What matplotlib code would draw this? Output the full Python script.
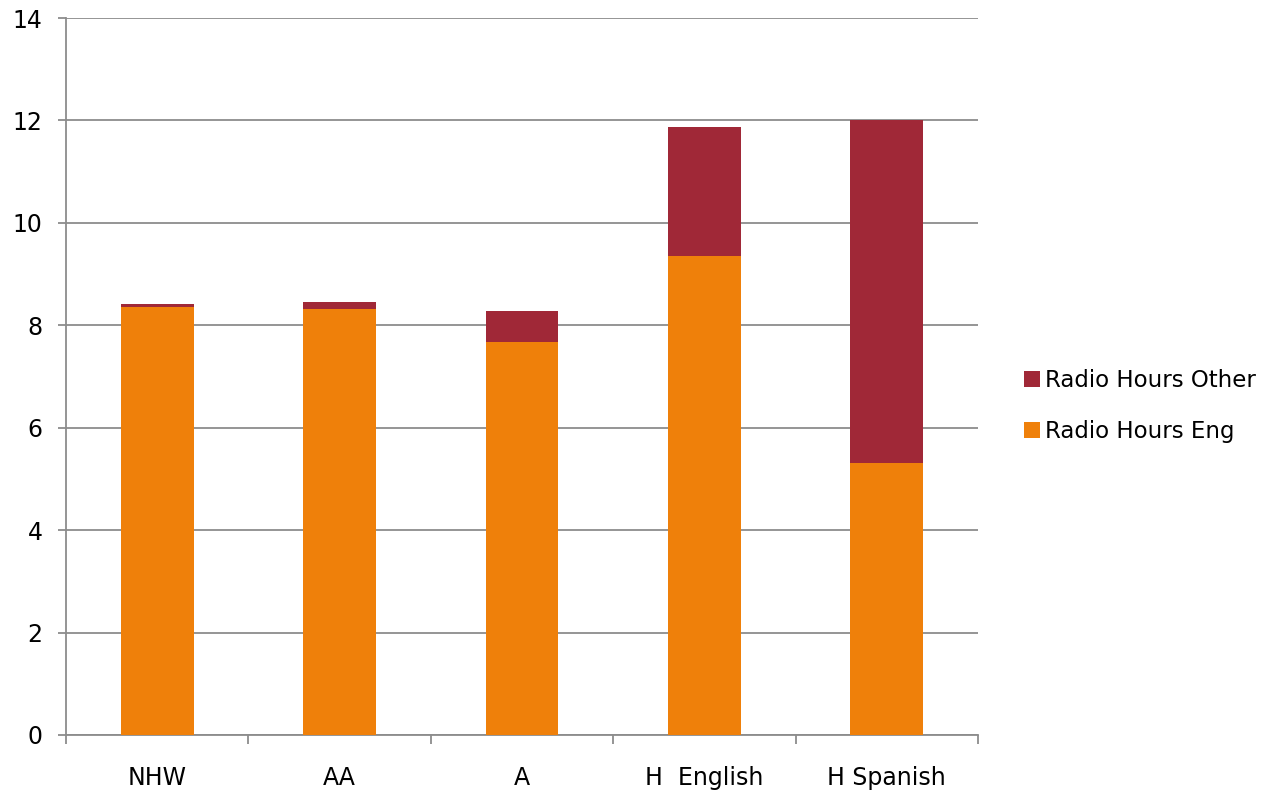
import matplotlib.pyplot as plt
import numpy as np

groups = ["NHW", "AA", "A", "H  English", "H Spanish"]
radio_eng = [8.36, 8.32, 7.68, 9.35, 5.32]
radio_other = [0.05, 0.14, 0.60, 2.53, 6.68]

orange = "#EF800A"
darkred = "#A02837"
grey = "#8C8C8C"

plt.rcParams['font.family'] = ['DejaVu Sans']

fig = plt.figure(figsize=(12.7, 7.95), dpi=100)
ax = fig.add_axes([66 / 1270, 60 / 795, 912 / 1270, 717 / 795])

x = np.arange(len(groups))
ax.bar(x, radio_eng, width=0.4, color=orange, label="Radio Hours Eng", zorder=3)
ax.bar(x, radio_other, width=0.4, bottom=radio_eng, color=darkred,
       label="Radio Hours Other", zorder=3)

ax.set_xlim(-0.5, len(groups) - 0.5)
ax.set_ylim(0, 14)
ax.set_yticks(range(0, 15, 2))
ax.yaxis.grid(True, color=grey, linewidth=1.3, zorder=0)

# category separators as major ticks, labels on minor ticks at centres
ax.set_xticks(np.arange(-0.5, len(groups), 1.0))
ax.set_xticklabels([])
ax.set_xticks(x, minor=True)
ax.set_xticklabels(groups, minor=True)
ax.tick_params(axis='x', which='major', length=6.5, width=1.3, color=grey, direction='out')
ax.tick_params(axis='x', which='minor', length=0, pad=22, labelsize=17)
ax.tick_params(axis='y', length=6, width=1.3, color=grey, pad=11, labelsize=17)

for side in ("top", "right"):
    ax.spines[side].set_visible(False)
for side in ("left", "bottom"):
    ax.spines[side].set_color(grey)
    ax.spines[side].set_linewidth(1.3)

h, l = ax.get_legend_handles_labels()
fig.legend(h[::-1], l[::-1], loc="center left", bbox_to_anchor=(1003 / 1270, 0.489),
           frameon=False, fontsize=16.5, handlelength=0.7, handleheight=0.7,
           handletextpad=0.25, labelspacing=1.2)

fig.savefig("out.png", dpi=100)
